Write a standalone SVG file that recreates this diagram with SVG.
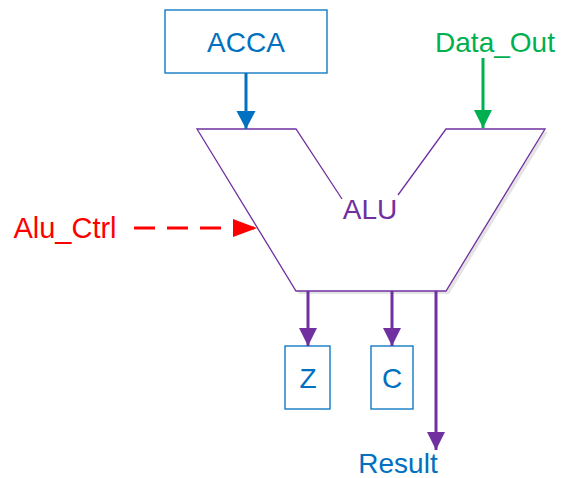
<svg xmlns="http://www.w3.org/2000/svg" width="563" height="478" viewBox="0 0 563 478">
  <style>
    .t { font-family: "Liberation Sans", Arial, sans-serif; font-size: 28px; text-anchor: middle; }
    .box { fill: #fff; stroke: #0070C0; stroke-width: 1.3; }
    .blue { fill: #0070C0; }
    .wire { fill: none; stroke-width: 3; }
  </style>
  <defs>
    <marker id="ab" markerUnits="userSpaceOnUse" markerWidth="20" markerHeight="20" refX="18" refY="9.5" orient="auto">
      <path d="M0,0 L18,9.5 L0,19 Z" fill="#0070C0"/>
    </marker>
    <marker id="ag" markerUnits="userSpaceOnUse" markerWidth="20" markerHeight="20" refX="18" refY="9" orient="auto">
      <path d="M0,0 L18,9 L0,18 Z" fill="#00B050"/>
    </marker>
    <marker id="ar" markerUnits="userSpaceOnUse" markerWidth="26" markerHeight="20" refX="24" refY="9" orient="auto">
      <path d="M0,0 L24,9 L0,18 Z" fill="#FF0000"/>
    </marker>
    <marker id="ap" markerUnits="userSpaceOnUse" markerWidth="20" markerHeight="20" refX="18" refY="9" orient="auto">
      <path d="M0,0 L18,9 L0,18 Z" fill="#7030A0"/>
    </marker>
  </defs>

  <g id="alu">
    <polygon points="199,132 298,132 344,202 400,198 448,132 548,132 449,294 299,294" fill="#e4e4e4"/>
    <polygon points="197,129 296,129 342,199 398,195 446,129 545,129 446,291 296,291" fill="#fff" stroke="none"/>
    <polyline points="342,199 296,129 197,129 296,291 446,291 545,129 446,129 398,195" fill="none" stroke="#7030A0" stroke-width="1.3"/>
    <text class="t" x="370" y="219" fill="#7030A0">ALU</text>
  </g>

  <g id="acca">
    <rect class="box" x="165" y="10" width="162" height="63"/>
    <text class="t blue" x="246" y="52">ACCA</text>
  </g>

  <g id="data_out">
    <text class="t" x="495" y="52" fill="#00B050">Data_Out</text>
  </g>

  <g id="alu_ctrl">
    <text class="t" x="65" y="238" fill="#FF0000" style="font-size:29px">Alu_Ctrl</text>
  </g>

  <g id="z">
    <rect class="box" x="285" y="346" width="45" height="63"/>
    <text class="t blue" x="308" y="388">Z</text>
  </g>

  <g id="c">
    <rect class="box" x="371" y="346" width="42" height="63"/>
    <text class="t blue" x="392" y="388">C</text>
  </g>

  <g id="result">
    <text class="t blue" x="398" y="473">Result</text>
  </g>

  <g id="connectors">
    <line class="wire" x1="246" y1="73" x2="246" y2="129" stroke="#0070C0" marker-end="url(#ab)"/>
    <line class="wire" x1="483" y1="58" x2="483" y2="128" stroke="#00B050" marker-end="url(#ag)"/>
    <line class="wire" x1="134" y1="228" x2="257" y2="228" stroke="#FF0000" stroke-dasharray="21 12" marker-end="url(#ar)"/>
    <line class="wire" x1="308" y1="291" x2="308" y2="346" stroke="#7030A0" marker-end="url(#ap)"/>
    <line class="wire" x1="392" y1="291" x2="392" y2="346" stroke="#7030A0" marker-end="url(#ap)"/>
    <line class="wire" x1="436" y1="291" x2="436" y2="450" stroke="#7030A0" marker-end="url(#ap)"/>
  </g>
</svg>
